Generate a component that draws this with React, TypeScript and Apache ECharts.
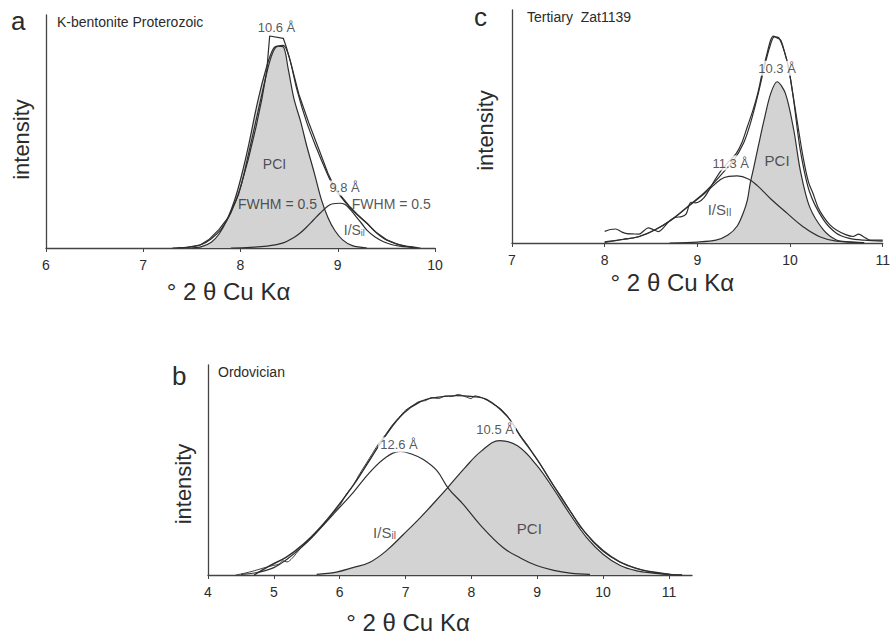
import React, { useEffect, useRef } from "react";
import * as echarts from "echarts";

const FONT = '"Liberation Sans", Arial, Helvetica, sans-serif';
const INK = "#2b2b2b";
const LINE = "#2e2e2e";
const FILL = "#d3d3d3";

// ---------- tick labels ----------
const aTicks = [6, 7, 8, 9, 10];
const cTicks = [7, 8, 9, 10, 11];
const bTicks = [4, 5, 6, 7, 8, 9, 10, 11];

// ---------- panel a : K-bentonite Proterozoic ----------
const aRaw = [[7.3,0],[7.45,0.3],[7.58,1.2],[7.68,3.8],[7.78,8],[7.88,13.5],[7.98,23],[8.08,38],[8.16,52],[8.22,64],[8.27,76],[8.29,86],[8.3,91],[8.44,90],[8.47,86.4],[8.52,79],[8.6,66],[8.7,54],[8.8,43],[8.9,32],[8.98,25],[9.05,21.5],[9.12,18],[9.2,14.5],[9.3,10.6],[9.4,6.5],[9.5,3.6],[9.6,1.8],[9.7,0.8],[9.82,0.2]];
const aFit = [[7.35,0],[7.5,0.5],[7.6,1.5],[7.7,4],[7.8,8],[7.9,15],[8.0,26],[8.08,40],[8.15,53],[8.22,66],[8.3,80],[8.36,86],[8.44,87],[8.5,82],[8.58,68],[8.68,54],[8.78,43],[8.88,33],[8.96,26],[9.02,22.7],[9.1,18.5],[9.2,14.2],[9.3,10.6],[9.38,7.2],[9.47,4.2],[9.56,2.4],[9.64,1.3],[9.72,0.6],[9.81,0]];
const aPCI = [[7.5,0],[7.6,0.6],[7.7,2.5],[7.78,6],[7.86,12],[7.94,20.6],[8.01,31],[8.08,43.5],[8.18,63.5],[8.27,78],[8.33,85],[8.38,86.6],[8.44,86.3],[8.49,77],[8.55,64],[8.62,54],[8.68,44],[8.76,32],[8.83,21],[8.9,13],[8.97,7.5],[9.05,3.5],[9.15,1],[9.3,0]];
const aIS = [[7.9,0],[8.1,0.3],[8.27,0.8],[8.44,2.2],[8.55,4.5],[8.61,6.3],[8.68,9],[8.75,12],[8.82,15],[8.89,17.7],[8.94,18.9],[9.02,19.2],[9.07,18.8],[9.13,16.5],[9.19,13.4],[9.25,10.3],[9.3,7.7],[9.38,4.8],[9.47,2.7],[9.56,1.4],[9.64,0.8],[9.77,0.3],[9.85,0]];
const aPeakNotes = [{ x: 8.37, y: 94.8, t: "10.6 Å" }, { x: 9.07, y: 25.8, t: "9.8 Å" }];
const aCurveNotes = [
  { x: 8.35, y: 36, t: "PCI" },
  { x: 8.38, y: 18.9, t: "FWHM = 0.5" },
  { x: 9.55, y: 18.9, t: "FWHM = 0.5" },
  { x: 9.17, y: 7.7, t: "I/S{s|il}" },
];

// ---------- panel c : Tertiary Zat1139 ----------
const cRaw = [[8.0,5],[8.06,5.8],[8.12,6],[8.18,4.8],[8.24,4],[8.3,3.9],[8.37,3.8],[8.43,5.5],[8.47,6.5],[8.52,5.8],[8.58,4.9],[8.64,6.8],[8.7,9.5],[8.76,11],[8.83,11.3],[8.88,12.5],[8.93,17.5],[8.98,17.2],[9.04,18.2],[9.1,21],[9.18,26.5],[9.26,31.3],[9.34,35],[9.42,38.5],[9.48,43],[9.54,50],[9.6,57],[9.65,64],[9.7,73],[9.75,81],[9.79,87],[9.82,88.8],[9.86,88],[9.9,87],[9.94,82],[9.98,76],[10.03,64],[10.07,54],[10.14,37],[10.2,26],[10.25,21],[10.3,15.5],[10.36,11.3],[10.43,7.8],[10.5,5.6],[10.6,3.6],[10.68,2.8],[10.74,3.8],[10.8,2.5],[10.85,1.4],[10.95,1.2],[11.0,1.2]];
const cFit = [[8.0,0.3],[8.2,1.5],[8.37,2.8],[8.54,5.6],[8.72,10],[8.9,15.8],[9.08,21.8],[9.25,29],[9.4,36],[9.5,43],[9.57,51],[9.65,63],[9.72,75],[9.78,84],[9.83,88.5],[9.88,88],[9.94,82],[9.99,74],[10.04,61],[10.11,40],[10.21,22],[10.36,10],[10.5,4.2],[10.64,2],[10.8,1.2],[11.0,0.8]];
const cPCI = [[8.7,0],[9.0,0.4],[9.2,1.2],[9.33,3.4],[9.43,7.3],[9.5,13.4],[9.54,18.5],[9.57,25.6],[9.61,32.7],[9.66,42],[9.72,52.8],[9.79,64],[9.86,69.2],[9.95,64.2],[10.04,48.5],[10.11,31.3],[10.21,15.6],[10.36,5.6],[10.5,1.3],[10.64,0.5],[10.8,0]];
const cIS = [[8.0,0.5],[8.2,1.6],[8.37,2.7],[8.54,5.6],[8.72,9.9],[8.9,15.6],[9.08,21.3],[9.25,27.3],[9.34,28.6],[9.43,28.8],[9.55,27.5],[9.65,24.5],[9.79,19],[9.97,12.7],[10.14,7],[10.32,2.7],[10.5,0.8],[10.8,0.2]];
const cPeakNotes = [{ x: 9.86, y: 75, t: "10.3 Å" }, { x: 9.36, y: 34.3, t: "11.3 Å" }];
const cCurveNotes = [
  { x: 9.86, y: 35.6, t: "PCI" },
  { x: 9.24, y: 14.2, t: "I/S{s|II}" },
];

// ---------- panel b : Ordovician ----------
const bRaw = [[4.42,0],[4.55,0.8],[4.7,2],[4.85,3.4],[5.0,4.6],[5.08,5.2],[5.14,6.8],[5.2,6.2],[5.28,8],[5.4,12.5],[5.5,15.5],[5.6,18.5],[5.7,22],[5.8,25.5],[5.9,29.5],[6.0,33],[6.1,38.5],[6.2,42.5],[6.3,48],[6.4,53],[6.5,58],[6.6,63],[6.7,67],[6.8,71.5],[6.9,75],[7.0,78.5],[7.1,80.5],[7.2,82.5],[7.3,83],[7.4,84.5],[7.5,84],[7.6,85.2],[7.7,85],[7.8,86],[7.9,85],[8.0,84],[8.05,85.3],[8.15,84.5],[8.25,83],[8.35,81],[8.45,79],[8.55,75.5],[8.65,71],[8.75,66],[8.85,62],[8.95,57],[9.05,52.5],[9.15,47.5],[9.25,42.5],[9.35,38],[9.45,33],[9.55,28],[9.65,23],[9.75,19.5],[9.85,15.5],[9.95,12.5],[10.05,10],[10.15,8],[10.25,6.2],[10.35,5],[10.45,3.8],[10.6,2.4],[10.75,1.3],[10.9,0.6],[11.05,0.2],[11.2,0]];
const bFit = [[4.7,0],[4.94,4.5],[5.19,8.5],[5.45,14.7],[5.7,22.5],[5.95,31.9],[6.21,42.9],[6.46,55],[6.71,67],[6.97,77],[7.22,82.5],[7.47,84.6],[7.78,85.4],[8.0,85],[8.23,83.6],[8.54,75.7],[8.74,66.3],[8.99,55.4],[9.24,42.9],[9.5,30.4],[9.75,19.4],[10.0,11.6],[10.26,6.1],[10.51,3],[10.76,1.4],[11.01,0.3],[11.2,0]];
const bPCI = [[5.65,0.3],[5.95,1.4],[6.2,3.5],[6.46,6.1],[6.71,11.6],[6.97,19.4],[7.22,27.2],[7.45,35],[7.65,42],[7.9,51],[8.15,59],[8.43,64],[8.7,61.5],[8.99,52.3],[9.24,41.3],[9.5,28.8],[9.75,17.8],[10.0,9.9],[10.26,4.5],[10.51,2],[10.76,0.9],[11.01,0.3]];
const bIS = [[4.5,0.3],[4.75,1.2],[5.0,3.5],[5.2,7.5],[5.45,14],[5.7,22],[5.95,30.5],[6.21,39.5],[6.46,49],[6.7,56],[6.92,58.8],[7.1,57.5],[7.27,55],[7.47,49.9],[7.65,41.3],[7.88,33.5],[8.13,24],[8.48,13.1],[8.75,8],[8.99,4.5],[9.25,2.2],[9.5,0.9],[9.8,0.3]];
const bPeakNotes = [{ x: 6.9, y: 62, t: "12.6 Å" }, { x: 8.36, y: 69.5, t: "10.5 Å" }];
const bCurveNotes = [
  { x: 6.68, y: 20.2, t: "I/S{s|il}" },
  { x: 8.88, y: 22, t: "PCI" },
];

function lineSeries(idx: number, data: number[][], smooth: number | boolean, fill = false, width = 1.2) {
  return {
    type: "line",
    xAxisIndex: idx,
    yAxisIndex: idx,
    data,
    smooth,
    showSymbol: false,
    symbol: "none",
    silent: true,
    lineStyle: { color: LINE, width },
    areaStyle: fill ? { color: FILL, opacity: 1 } : undefined,
    z: fill ? 1 : 2,
  };
}

function noteSeries(idx: number, notes: { x: number; y: number; t: string }[], white: boolean, fontSize: number) {
  return {
    type: "scatter",
    xAxisIndex: idx,
    yAxisIndex: idx,
    symbolSize: 1,
    silent: true,
    z: 10,
    itemStyle: { color: "rgba(0,0,0,0)" },
    data: notes.map((n) => ({
      value: [n.x, n.y],
      label: {
        show: true,
        position: "inside",
        formatter: n.t,
        fontFamily: FONT,
        fontSize,
        color: INK,
        backgroundColor: white ? "#ffffff" : "transparent",
        padding: white ? [1, 2] : 0,
        rich: {
          s: { fontFamily: FONT, fontSize: Math.round(fontSize * 0.65), color: INK, verticalAlign: "bottom", padding: [5, 0, 0, 0] },
        },
      },
    })),
  };
}

function xAxisFor(idx: number, min: number, max: number, ticks: number[], nameShift: number, nameGap: number) {
  return {
    type: "value",
    gridIndex: idx,
    min,
    max,
    interval: 1,
    name: "° 2 θ Cu Kα",
    nameLocation: "middle",
    nameGap,
    nameTextStyle: { fontFamily: FONT, fontSize: 24, color: INK, padding: [0, nameShift * 2, 0, 0] },
    axisLine: { show: true, onZero: false, lineStyle: { color: "#444", width: 1.3 } },
    axisTick: { show: true, length: 4, lineStyle: { color: "#444" }, customValues: ticks },
    axisLabel: { fontFamily: FONT, fontSize: 14, color: INK, margin: 10, customValues: ticks },
    splitLine: { show: false },
  };
}

function yAxisFor(idx: number, nameShift: number, nameGap: number) {
  return {
    type: "value",
    gridIndex: idx,
    min: 0,
    max: 100,
    name: "intensity",
    nameLocation: "middle",
    nameRotate: 90,
    nameGap,
    nameTextStyle: { fontFamily: FONT, fontSize: 22, color: INK, padding: [0, nameShift * 2, 0, 0] },
    axisLine: { show: true, lineStyle: { color: "#444", width: 1.3 } },
    axisTick: { show: false },
    axisLabel: { show: false },
    splitLine: { show: false },
  };
}

function titleAt(text: string, left: number, top: number, fontSize: number) {
  return {
    text,
    left,
    top,
    padding: 0,
    textStyle: { fontFamily: FONT, fontSize, fontWeight: "normal", color: INK },
  };
}

export default function App() {
  const ref = useRef<HTMLDivElement>(null);

  useEffect(() => {
    if (!ref.current) return;
    const chart = echarts.init(ref.current, null, { renderer: "svg" });
    const option: any = {
      animation: false,
      backgroundColor: "#ffffff",
      title: [
        titleAt("a", 11, 8, 26),
        titleAt("K-bentonite Proterozoic", 57, 15, 14),
        titleAt("c", 474, 4, 26),
        titleAt("Tertiary  Zat1139", 527, 10, 14),
        titleAt("b", 172, 363, 26),
        titleAt("Ordovician", 218, 365, 14),
      ],
      grid: [
        { left: 46, top: 15, width: 389, height: 233 },
        { left: 512, top: 10, width: 375, height: 233 },
        { left: 208, top: 365, width: 484, height: 213 },
      ],
      xAxis: [
        xAxisFor(0, 6, 10, aTicks, 12, 31),
        xAxisFor(1, 7, 11, cTicks, 25, 27),
        xAxisFor(2, 4, 11.35, bTicks, 42, 35),
      ],
      yAxis: [yAxisFor(0, 8, 14), yAxisFor(1, 4, 16), yAxisFor(2, 14, 14)],
      series: [
        lineSeries(0, aPCI, 0.3, true),
        lineSeries(0, aIS, 0.4),
        lineSeries(0, aFit, 0.3),
        lineSeries(0, aRaw, false),
        noteSeries(0, aPeakNotes, true, 13),
        noteSeries(0, aCurveNotes, false, 14),

        lineSeries(1, cPCI, 0.3, true),
        lineSeries(1, cIS, 0.4),
        lineSeries(1, cFit, 0.3),
        lineSeries(1, cRaw, 0.3),
        noteSeries(1, cPeakNotes, true, 13),
        noteSeries(1, cCurveNotes, false, 15),

        lineSeries(2, bPCI, 0.4, true),
        lineSeries(2, bIS, 0.4),
        lineSeries(2, bFit, 0.4, false, 1.4),
        lineSeries(2, bRaw, 0.3, false, 0.9),
        noteSeries(2, bPeakNotes, true, 13),
        noteSeries(2, bCurveNotes, false, 15),
      ],
    };
    chart.setOption(option);
    return () => chart.dispose();
  }, []);

  return (
    <div
      ref={ref}
      style={{ position: "absolute", left: 0, top: 0, width: 893, height: 635 }}
    />
  );
}
